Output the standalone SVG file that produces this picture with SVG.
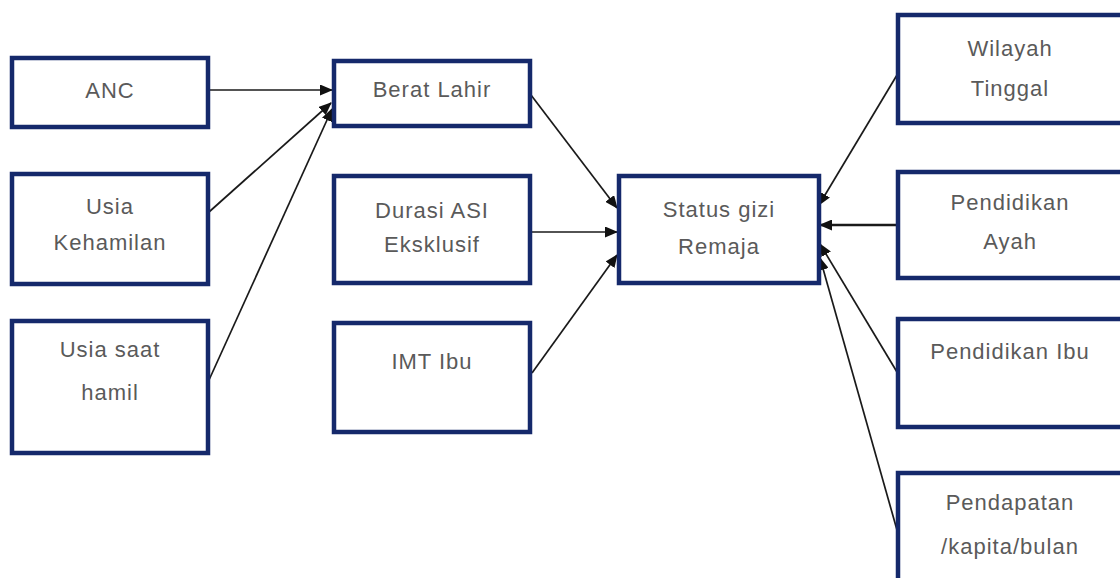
<svg xmlns="http://www.w3.org/2000/svg" width="1120" height="578" viewBox="0 0 1120 578">
<defs>
<style>
.box{fill:#ffffff;stroke:#15296b;stroke-width:4.5}
.t{font-family:"Liberation Sans",Arial,sans-serif;font-size:22px;fill:#5a5a5a;text-anchor:middle;letter-spacing:1px}
.c{stroke:#1a1a1a;stroke-width:1.7;fill:none;marker-end:url(#ah)}
</style>
<marker id="ah" markerUnits="userSpaceOnUse" markerWidth="13" markerHeight="11" refX="12" refY="5.5" orient="auto">
<path d="M0,0 L13,5.5 L0,11 Z" fill="#111"/>
</marker>
</defs>
<rect width="1120" height="578" fill="#ffffff"/>
<g id="connectors">
<line class="c" x1="209" y1="90" x2="332" y2="90"/>
<line class="c" x1="209" y1="212" x2="331" y2="103"/>
<line class="c" x1="209" y1="380" x2="332" y2="109"/>
<line class="c" x1="531" y1="95" x2="617" y2="208"/>
<line class="c" x1="532" y1="232" x2="617" y2="232"/>
<line class="c" x1="532" y1="373" x2="617" y2="255"/>
<line class="c" x1="897" y1="75" x2="819" y2="205"/>
<line class="c" x1="897" y1="225" x2="820" y2="225" style="stroke-width:2.4"/>
<line class="c" x1="897" y1="372" x2="820" y2="244"/>
<line class="c" x1="897" y1="530" x2="820" y2="258"/>
</g>
<g id="anc"><rect class="box" x="12" y="58" width="196" height="69"/><text class="t" x="110" y="98">ANC</text></g>
<g id="usia-kehamilan"><rect class="box" x="12" y="174" width="196" height="110"/><text class="t" x="110" y="214">Usia</text><text class="t" x="110" y="250">Kehamilan</text></g>
<g id="usia-saat-hamil"><rect class="box" x="12" y="321" width="196" height="132"/><text class="t" x="110" y="357">Usia saat</text><text class="t" x="110" y="400">hamil</text></g>
<g id="berat-lahir"><rect class="box" x="334" y="61" width="196" height="65"/><text class="t" x="432" y="97">Berat Lahir</text></g>
<g id="durasi-asi"><rect class="box" x="334" y="176" width="196" height="107"/><text class="t" x="432" y="218">Durasi ASI</text><text class="t" x="432" y="252">Eksklusif</text></g>
<g id="imt-ibu"><rect class="box" x="334" y="323" width="196" height="109"/><text class="t" x="432" y="369">IMT Ibu</text></g>
<g id="status-gizi"><rect class="box" x="619" y="176" width="200" height="107"/><text class="t" x="719" y="217">Status gizi</text><text class="t" x="719" y="254">Remaja</text></g>
<g id="wilayah-tinggal"><rect class="box" x="898" y="15" width="240" height="108"/><text class="t" x="1010" y="56">Wilayah</text><text class="t" x="1010" y="96">Tinggal</text></g>
<g id="pendidikan-ayah"><rect class="box" x="898" y="172" width="240" height="106"/><text class="t" x="1010" y="210">Pendidikan</text><text class="t" x="1010" y="249">Ayah</text></g>
<g id="pendidikan-ibu"><rect class="box" x="898" y="319" width="240" height="108"/><text class="t" x="1010" y="359">Pendidikan Ibu</text></g>
<g id="pendapatan"><rect class="box" x="898" y="473" width="240" height="130"/><text class="t" x="1010" y="510">Pendapatan</text><text class="t" x="1010" y="554">/kapita/bulan</text></g>
</svg>
